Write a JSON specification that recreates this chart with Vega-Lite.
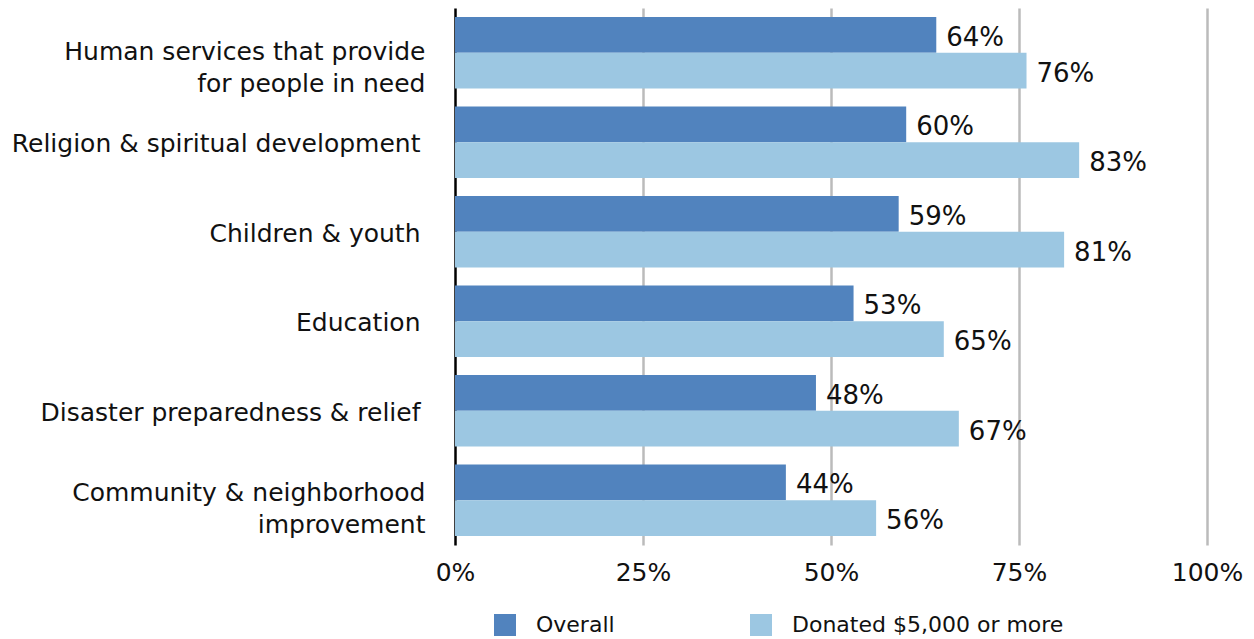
{
  "$schema": "https://vega.github.io/schema/vega-lite/v6.json",
  "autosize": {"type": "none"},
  "padding": {"left": 455, "top": 8, "right": 47, "bottom": 94},
  "width": 752,
  "height": 537,
  "background": "white",
  "config": {
    "view": {"stroke": null},
    "font": "DejaVu Sans",
    "text": {"font": "DejaVu Sans"}
  },
  "data": {
    "values": [
      {"cause": "Human services that provide|for people in need", "group": "Overall", "value": 0.64},
      {"cause": "Human services that provide|for people in need", "group": "Donated $5,000 or more", "value": 0.76},
      {"cause": "Religion & spiritual development", "group": "Overall", "value": 0.60},
      {"cause": "Religion & spiritual development", "group": "Donated $5,000 or more", "value": 0.83},
      {"cause": "Children & youth", "group": "Overall", "value": 0.59},
      {"cause": "Children & youth", "group": "Donated $5,000 or more", "value": 0.81},
      {"cause": "Education", "group": "Overall", "value": 0.53},
      {"cause": "Education", "group": "Donated $5,000 or more", "value": 0.65},
      {"cause": "Disaster preparedness & relief", "group": "Overall", "value": 0.48},
      {"cause": "Disaster preparedness & relief", "group": "Donated $5,000 or more", "value": 0.67},
      {"cause": "Community & neighborhood|improvement", "group": "Overall", "value": 0.44},
      {"cause": "Community & neighborhood|improvement", "group": "Donated $5,000 or more", "value": 0.56}
    ]
  },
  "encoding": {
    "y": {
      "field": "cause",
      "type": "nominal",
      "sort": null,
      "scale": {"paddingInner": 0.2, "paddingOuter": 0.1},
      "axis": {
        "title": null,
        "ticks": false,
        "domainColor": "#000000",
        "domainWidth": 2.5,
        "labelFontSize": 25,
        "labelColor": "#111111",
        "labelPadding": {"condition": {"test": "indexof(datum.value, '|') < 0", "value": 35}, "value": 30},
        "labelOffset": {"condition": [
          {"test": "indexof(datum.value, 'Community') === 0", "value": -7},
          {"test": "indexof(datum.value, '|') < 0", "value": 2}
        ], "value": -1},
        "labelLimit": 500,
        "labelLineHeight": 32,
        "labelExpr": "split(datum.label, '|')"
      }
    },
    "yOffset": {"field": "group", "type": "nominal", "sort": ["Overall", "Donated $5,000 or more"], "scale": {"paddingInner": 0}},
    "x": {
      "field": "value",
      "type": "quantitative",
      "scale": {"domain": [0, 1]},
      "axis": {
        "title": null,
        "format": ".0%",
        "values": [0, 0.25, 0.5, 0.75, 1],
        "domain": false,
        "ticks": false,
        "grid": true,
        "gridColor": "#BBBBBB",
        "gridWidth": 2.5,
        "gridOpacity": {"condition": {"test": "datum.value === 0", "value": 0}, "value": 1},
        "labelFlush": false,
        "labelFontSize": 25,
        "labelColor": "#111111",
        "labelPadding": 15
      }
    }
  },
  "layer": [
    {
      "mark": {"type": "bar"},
      "encoding": {
        "color": {
          "field": "group",
          "type": "nominal",
          "scale": {"domain": ["Overall", "Donated $5,000 or more"], "range": ["#5183BE", "#9CC7E2"]},
          "legend": {
            "title": null,
            "orient": "none",
            "legendX": 39,
            "legendY": 606,
            "direction": "horizontal",
            "symbolType": "square",
            "symbolSize": 484,
            "symbolStrokeWidth": 0,
            "labelFontSize": 22,
            "labelColor": "#111111",
            "labelOffset": 20,
            "labelLimit": 500,
            "columnPadding": 135,
            "padding": 0
          }
        }
      }
    },
    {
      "mark": {"type": "text", "align": "left", "baseline": "middle", "dx": 10, "dy": 3, "fontSize": 26, "color": "#111111"},
      "encoding": {
        "text": {"field": "value", "type": "quantitative", "format": ".0%"}
      }
    }
  ]
}
